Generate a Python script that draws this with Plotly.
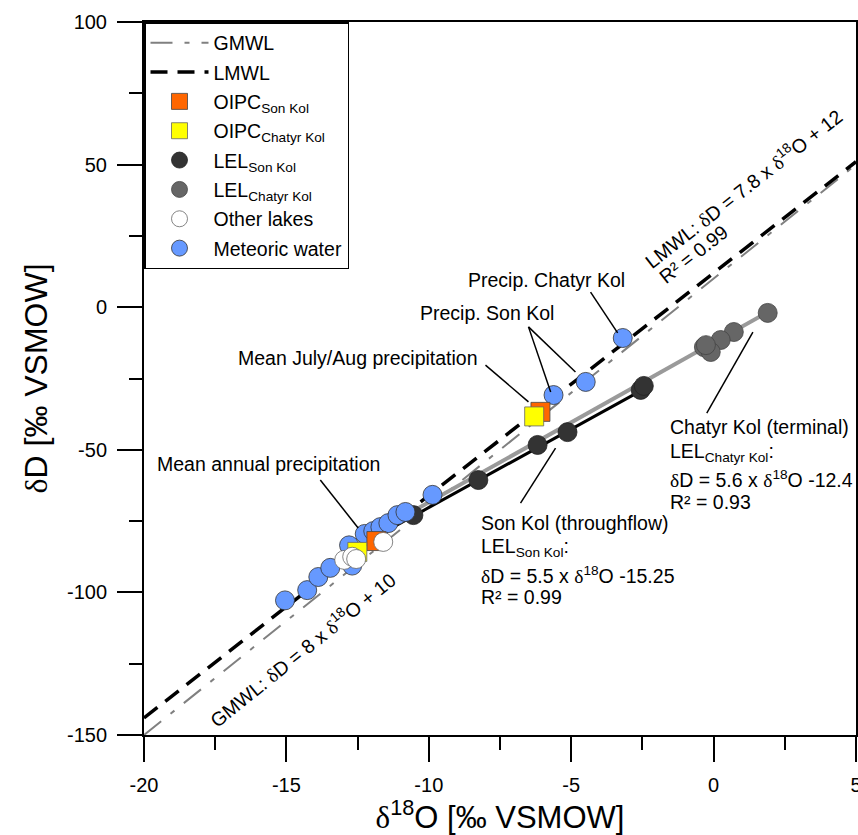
import plotly.graph_objects as go

# ---- data (delta 18O, delta D in permil VSMOW) ----
met_d18o = [-15.05, -14.27, -13.88, -13.46, -12.69, -12.80, -12.25, -11.95, -11.70, -11.42, -11.10, -10.82, -9.87, -5.62, -4.49, -3.19]
met_dD = [-102.8, -99.2, -94.6, -91.4, -90.6, -83.5, -79.5, -78.5, -77.1, -75.7, -72.9, -71.8, -65.8, -30.8, -26.2, -10.8]

other_d18o = [-11.60, -12.97, -12.69, -12.55]
other_dD = [-82.3, -88.6, -87.5, -88.3]

oipc_son_d18o = [-11.84, -6.08]
oipc_son_dD = [-82.0, -36.7]
oipc_chatyr_d18o = [-12.51, -6.30]
oipc_chatyr_dD = [-85.8, -38.3]

lel_son_d18o = [-10.54, -8.26, -6.18, -5.13, -2.56, -2.45]
lel_son_dD = [-72.9, -60.6, -48.3, -43.8, -29.0, -27.6]

lel_chatyr_d18o = [1.90, 0.71, 0.25, -0.34, -0.10, -0.27]
lel_chatyr_dD = [-2.0, -8.7, -11.5, -14.0, -15.7, -13.3]

# axis ticks
x_ticks = [-20, -15, -10, -5, 0, 5]
x_tick_text = ["-20", "-15", "-10", "-5", "0", "5"]
y_ticks = [-150, -100, -50, 0, 50, 100]
y_tick_text = ["-150", "-100", "-50", "0", "50", "100"]

# regression lines: slope, intercept, x-extent
gmwl = (8.0, 10.0, [-20.0, 5.0])
lmwl = (7.8, 12.0, [-20.0, 5.0])
lel_son = (5.5, -15.25, [-11.8, -2.45])
lel_chatyr = (5.6, -12.4, [-11.8, 1.9])


def line_xy(coef):
    m, b, xs = coef
    return xs, [m * x + b for x in xs]


FONT = "Liberation Sans, Arial, sans-serif"
DELTA = '<span style="font-family:Liberation Serif">δ</span>'

fig = go.Figure()

x, y = line_xy(gmwl)
fig.add_trace(go.Scatter(x=x, y=y, mode="lines", name="GMWL", legendrank=1, legendgroup="a",
                         line=dict(color="#808080", width=2, dash="22px,12px,5px,12px")))
x, y = line_xy(lmwl)
fig.add_trace(go.Scatter(x=x, y=y, mode="lines", name="LMWL", legendrank=2, legendgroup="b",
                         line=dict(color="black", width=3.5, dash="17px,10px")))
x, y = line_xy(lel_chatyr)
fig.add_trace(go.Scatter(x=x, y=y, mode="lines", showlegend=False,
                         line=dict(color="#9a9a9a", width=4)))
x, y = line_xy(lel_son)
fig.add_trace(go.Scatter(x=x, y=y, mode="lines", showlegend=False,
                         line=dict(color="black", width=3)))

fig.add_trace(go.Scatter(x=lel_son_d18o, y=lel_son_dD, mode="markers",
                         name="LEL<sub>Son Kol</sub>", legendrank=5, legendgroup="e",
                         marker=dict(symbol="circle", size=19, color="#333333",
                                     line=dict(color="#222222", width=0.8))))
fig.add_trace(go.Scatter(x=lel_chatyr_d18o, y=lel_chatyr_dD, mode="markers",
                         name="LEL<sub>Chatyr Kol</sub>", legendrank=6, legendgroup="f",
                         marker=dict(symbol="circle", size=19, color="#666666",
                                     line=dict(color="#444444", width=0.8))))
fig.add_trace(go.Scatter(x=met_d18o, y=met_dD, mode="markers",
                         name="Meteoric water", legendrank=8, legendgroup="h",
                         marker=dict(symbol="circle", size=19, color="#6699FF",
                                     line=dict(color="#333333", width=0.8))))
fig.add_trace(go.Scatter(x=oipc_son_d18o, y=oipc_son_dD, mode="markers",
                         name="OIPC<sub>Son Kol</sub>", legendrank=3, legendgroup="c",
                         marker=dict(symbol="square", size=19, color="#FF6600",
                                     line=dict(color="#444444", width=0.8))))
fig.add_trace(go.Scatter(x=oipc_chatyr_d18o, y=oipc_chatyr_dD, mode="markers",
                         name="OIPC<sub>Chatyr Kol</sub>", legendrank=4, legendgroup="d",
                         marker=dict(symbol="square", size=19, color="#FFFF00",
                                     line=dict(color="#666666", width=0.8))))
fig.add_trace(go.Scatter(x=other_d18o, y=other_dD, mode="markers",
                         name="Other lakes", legendrank=7, legendgroup="g",
                         marker=dict(symbol="circle", size=19, color="white",
                                     line=dict(color="#666666", width=0.8))))

# leader lines from labels to the points
leaders = [
    ((-4.32, 5.3), (-3.37, -9.0)),
    ((-6.50, -6.9), (-5.72, -29.7)),
    ((-6.50, -6.9), (-4.85, -22.7)),
    ((-8.01, -20.3), (-6.50, -33.2)),
    ((-13.81, -60.6), (-12.48, -77.4)),
    ((1.38, -8.7), (-0.24, -37.1)),
    ((-5.55, -49.4), (-6.78, -68.7)),
]
for (x0, y0), (x1, y1) in leaders:
    fig.add_shape(type="line", x0=x0, y0=y0, x1=x1, y1=y1, xref="x", yref="y",
                  line=dict(color="black", width=1.5))

ann_font = dict(family=FONT, size=19.5, color="black")
labels = [
    (-8.71, 9.5, "Precip. Chatyr Kol"),
    (-10.37, -2.0, "Precip. Son Kol"),
    (-16.77, -17.8, "Mean July/Aug precipitation"),
    (-19.61, -55.0, "Mean annual precipitation"),
    (-1.61, -42.0, "Chatyr Kol (terminal)"),
    (-1.61, -51.1, "LEL<sub>Chatyr Kol</sub>:"),
    (-1.61, -60.2, DELTA + "D = 5.6 x " + DELTA + "<sup>18</sup>O -12.4"),
    (-1.61, -68.3, "R² = 0.93"),
    (-8.22, -75.7, "Son Kol (throughflow)"),
    (-8.22, -84.1, "LEL<sub>Son Kol</sub>:"),
    (-8.22, -93.9, DELTA + "D = 5.5 x " + DELTA + "<sup>18</sup>O -15.25"),
    (-8.22, -101.6, "R² = 0.99"),
]
for x0, y0, t in labels:
    fig.add_annotation(x=x0, y=y0, text=t, showarrow=False, xanchor="left",
                       yanchor="middle", font=ann_font)

fig.add_annotation(x=1.03, y=41.8, text="LMWL: " + DELTA + "D = 7.8 x " + DELTA + "<sup>18</sup>O + 12",
                   showarrow=False, textangle=-38, font=ann_font)
fig.add_annotation(x=-0.70, y=18.7, text="R² = 0.99", showarrow=False, textangle=-38, font=ann_font)
fig.add_annotation(x=-14.44, y=-119.8, text="GMWL: " + DELTA + "D = 8 x " + DELTA + "<sup>18</sup>O + 10",
                   showarrow=False, textangle=-39, font=ann_font)

axis_common = dict(
    showline=True, linecolor="black", linewidth=2, mirror=True,
    ticks="outside", ticklen=25, tickwidth=1.5, tickcolor="black",
    showgrid=False, zeroline=False, ticklabeloverflow="allow", automargin=False,
    tickfont=dict(family=FONT, size=20, color="black"),
)
fig.update_xaxes(range=[-20, 5], tickmode="array", tickvals=x_ticks, ticktext=x_tick_text,
                 ticklabelstandoff=6,
                 minor=dict(ticks="outside", ticklen=13, dtick=2.5, tick0=-20, tickwidth=1.5, tickcolor="black"),
                 title=dict(text=DELTA + "<sup>18</sup>O [‰ VSMOW]",
                            font=dict(family=FONT, size=31, color="black"), standoff=6),
                 **axis_common)
fig.update_yaxes(range=[-150, 100], tickmode="array", tickvals=y_ticks, ticktext=y_tick_text,
                 ticklabelstandoff=6,
                 minor=dict(ticks="outside", ticklen=13, dtick=25, tick0=-150, tickwidth=1.5, tickcolor="black"),
                 title=dict(text=DELTA + "D [‰ VSMOW]",
                            font=dict(family=FONT, size=32, color="black"), standoff=10),
                 **axis_common)

fig.update_layout(
    width=858, height=835,
    margin=dict(l=144, r=2, t=22, b=100),
    plot_bgcolor="white", paper_bgcolor="white",
    font=dict(family=FONT, size=19.5, color="black"),
    legend=dict(x=0, y=1, xanchor="left", yanchor="top", bgcolor="white",
                bordercolor="black", borderwidth=1.5, tracegroupgap=1,
                itemwidth=58, font=dict(family=FONT, size=19.5, color="black")),
)

fig.write_html("out.html")
